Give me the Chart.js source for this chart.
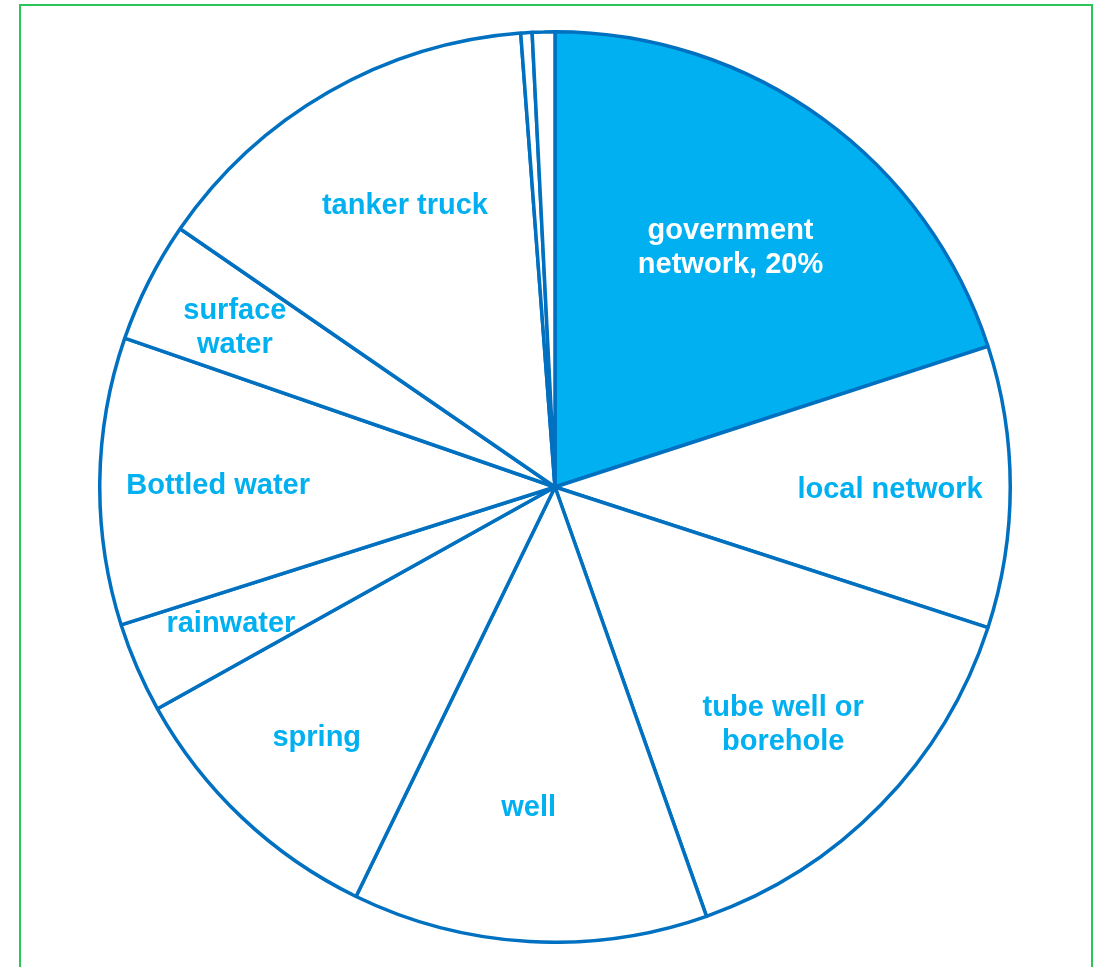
<!DOCTYPE html>
<html>
<head>
<meta charset="utf-8">
<script src="https://cdn.jsdelivr.net/npm/chart.js@4.4.1/dist/chart.umd.min.js"></script>
<style>
  html, body { margin: 0; padding: 0; background: #fff; overflow: hidden; }
  body { width: 1099px; height: 967px; position: relative; }
  .frame { position: absolute; left: 19px; top: 4px; width: 1070px; height: 1000px; border: 2px solid #2cc558; }
  .wrap { position: absolute; left: 98px; top: 30px; width: 914px; height: 914px; }
</style>
</head>
<body>
<div class="frame"></div>
<div class="wrap"><canvas id="pie"></canvas></div>
<script>
// Water sources (share of households, %)
const sources = [
  'government network, 20%', 'local network', 'tube well or borehole', 'well', 'spring',
  'rainwater', 'Bottled water', 'surface water', 'tanker truck', 'other', 'unknown'
];
const shares = [20, 10, 14.6, 12.6, 9.7, 3.2, 10.2, 4.3, 14.2, 0.4, 0.8];

// text drawn inside each slice (empty = no label)
const sliceText = [
  ['government', 'network, 20%'], ['local network'], ['tube well or', 'borehole'], ['well'], ['spring'],
  ['rainwater'], ['Bottled water'], ['surface', 'water'], ['tanker truck'], [], []
];
// where the text sits: fraction of radius, and a small turn (degrees) off the slice middle
const textRadius = [0.656, 0.736, 0.72, 0.70, 0.755, 0.77, 0.74, 0.788, 0.705, 0.7, 0.7];
const textTurn = [0, 0, 1.6, 1.5, 0.5, 1, 0, 0, 2, 0, 0];

const BLUE = '#00B0F0';
const EDGE = '#0070C0';

const sliceLabels = {
  id: 'sliceLabels',
  afterDatasetsDraw(chart) {
    const ctx = chart.ctx;
    const arcs = chart.getDatasetMeta(0).data;
    ctx.save();
    ctx.font = 'bold 29px "Liberation Sans", Arial, sans-serif';
    ctx.textAlign = 'center';
    ctx.textBaseline = 'middle';
    arcs.forEach((arc, i) => {
      const lines = sliceText[i];
      if (!lines.length) return;
      const p = arc.getProps(['x', 'y', 'startAngle', 'endAngle', 'outerRadius'], true);
      const mid = (p.startAngle + p.endAngle) / 2 + textTurn[i] * Math.PI / 180;
      const r = p.outerRadius * textRadius[i];
      const cx = p.x + Math.cos(mid) * r;
      const cy = p.y + Math.sin(mid) * r + 3;
      const lh = 34;
      ctx.fillStyle = i === 0 ? '#ffffff' : BLUE;
      lines.forEach((t, k) => {
        ctx.fillText(t, cx, cy + (k - (lines.length - 1) / 2) * lh);
      });
    });
    ctx.restore();
  }
};

new Chart(document.getElementById('pie'), {
  type: 'pie',
  data: {
    labels: sources,
    datasets: [{
      data: shares,
      backgroundColor: shares.map((v, i) => i === 0 ? BLUE : '#ffffff'),
      borderColor: EDGE,
      borderWidth: 3.5
    }]
  },
  options: {
    responsive: true,
    maintainAspectRatio: false,
    animation: false,
    layout: { padding: 0 },
    plugins: { legend: { display: false }, tooltip: { enabled: false } }
  },
  plugins: [sliceLabels]
});
</script>
</body>
</html>
